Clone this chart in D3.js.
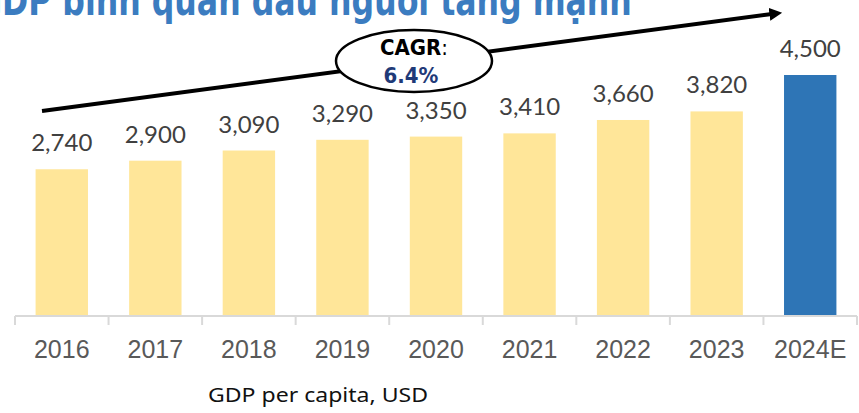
<!DOCTYPE html>
<html>
<head>
<meta charset="utf-8">
<script src="https://cdn.jsdelivr.net/npm/d3@7"></script>
<style>
  body { margin: 0; background: #fff; }
  svg { display: block; }
</style>
</head>
<body>
<svg id="root" width="859" height="413"></svg>
<script>
const years = ['2016', '2017', '2018', '2019', '2020', '2021', '2022', '2023', '2024E']
const gdpPerCapita = [2740, 2900, 3090, 3290, 3350, 3410, 3660, 3820, 4500]
const estimated = [false, false, false, false, false, false, false, false, true]
const titleText = 'GDP bình quân đầu người tăng mạnh'
const cagrLabel = 'CAGR'
const cagrValue = '6.4%'
const unitLabel = 'GDP per capita, USD'

const svg = d3.select('#root')
const condensed = '"DejaVu Sans Condensed", "Liberation Sans Narrow", sans-serif'

const x = d3.scaleBand()
  .domain(years)
  .range([15, 857])
  .paddingInner(0.44)
  .paddingOuter(0.22)

const y = d3.scaleLinear()
  .domain([0, 4500])
  .range([316, 75])

// title, cut off at the top and left like the source slide
const title = svg.append('text')
  .attr('font-family', condensed)
  .attr('font-weight', 'bold')
  .attr('font-size', 42)
  .attr('fill', '#3b7cc0')
  .text(titleText)
const probe = svg.append('text')
  .attr('font-family', condensed)
  .attr('font-weight', 'bold')
  .attr('font-size', 42)
  .text(titleText[0])
const wAll = title.node().getComputedTextLength()
const wG = probe.node().getComputedTextLength()
probe.remove()
const sx = 630 / (wAll - wG)
title.attr('transform', `translate(${2 - wG * sx},15) scale(${sx},1)`)

// bars
svg.selectAll('rect.bar')
  .data(years)
  .enter().append('rect')
  .attr('class', 'bar')
  .attr('x', d => x(d))
  .attr('y', (d, i) => y(gdpPerCapita[i]))
  .attr('width', x.bandwidth())
  .attr('height', (d, i) => y(0) - y(gdpPerCapita[i]))
  .attr('fill', (d, i) => estimated[i] ? '#2e75b6' : '#ffe699')

// value labels
svg.selectAll('text.val')
  .data(years)
  .enter().append('text')
  .attr('class', 'val')
  .attr('x', d => x(d) + x.bandwidth() / 2)
  .attr('y', (d, i) => y(gdpPerCapita[i]) - 18)
  .attr('text-anchor', 'middle')
  .attr('font-family', 'Lato, sans-serif')
  .attr('font-size', 24)
  .attr('fill', '#404040')
  .text((d, i) => d3.format(',')(gdpPerCapita[i]))

// x axis
const axis = svg.append('g')
axis.append('line')
  .attr('x1', 15).attr('x2', 857)
  .attr('y1', 316).attr('y2', 316)
  .attr('stroke', '#d9d9d9')
  .attr('stroke-width', 2)

const step = x.step()
axis.selectAll('line.tick')
  .data(d3.range(years.length + 1))
  .enter().append('line')
  .attr('class', 'tick')
  .attr('x1', i => 15 + i * step)
  .attr('x2', i => 15 + i * step)
  .attr('y1', 316).attr('y2', 325)
  .attr('stroke', '#d9d9d9')
  .attr('stroke-width', 2)

axis.selectAll('text')
  .data(years)
  .enter().append('text')
  .attr('x', d => x(d) + x.bandwidth() / 2)
  .attr('y', 358)
  .attr('text-anchor', 'middle')
  .attr('font-family', '"Liberation Sans", Arial, sans-serif')
  .attr('font-size', 25)
  .attr('fill', '#595959')
  .text(d => d)

// CAGR arrow
svg.append('defs').append('marker')
  .attr('id', 'head')
  .attr('viewBox', '0 0 10 10')
  .attr('refX', 2).attr('refY', 5)
  .attr('markerWidth', 3.2).attr('markerHeight', 3.2)
  .attr('orient', 'auto')
  .append('path')
  .attr('d', 'M0,0 L10,5 L0,10 z')
  .attr('fill', '#000')

svg.append('line')
  .attr('x1', 42).attr('y1', 111)
  .attr('x2', 772).attr('y2', 14)
  .attr('stroke', '#000')
  .attr('stroke-width', 4)
  .attr('marker-end', 'url(#head)')

svg.append('ellipse')
  .attr('cx', 414).attr('cy', 61)
  .attr('rx', 78).attr('ry', 31)
  .attr('fill', '#fff')
  .attr('stroke', '#000')
  .attr('stroke-width', 2.5)

const cagr = svg.append('text')
  .attr('x', 414).attr('y', 55)
  .attr('text-anchor', 'middle')
  .attr('font-family', condensed)
  .attr('font-weight', 'bold')
  .attr('font-size', 22)
cagr.append('tspan').attr('fill', '#000').text(cagrLabel)
cagr.append('tspan').attr('fill', '#000').attr('font-weight', 'normal').text(':')

svg.append('text')
  .attr('x', 411).attr('y', 83)
  .attr('text-anchor', 'middle')
  .attr('font-family', condensed)
  .attr('font-weight', 'bold')
  .attr('font-size', 22)
  .attr('fill', '#1f3a78')
  .text(cagrValue)

// unit note
svg.append('text')
  .attr('x', 208).attr('y', 402)
  .attr('font-family', '"Noto Sans", sans-serif')
  .attr('font-size', 20)
  .attr('textLength', 220)
  .attr('lengthAdjust', 'spacingAndGlyphs')
  .attr('fill', '#111')
  .text(unitLabel)
</script>
</body>
</html>
